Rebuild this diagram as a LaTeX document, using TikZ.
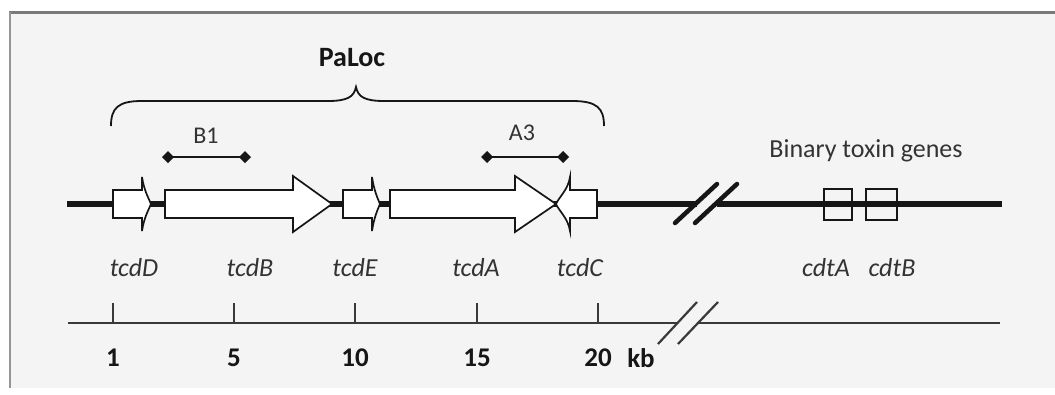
\documentclass[tikz,border=0pt]{standalone}
\usepackage{fontspec}
\setmainfont{Carlito}
\usetikzlibrary{calc}
\definecolor{panel}{HTML}{F4F4F4}
\definecolor{ink}{HTML}{161616}
\definecolor{txt}{HTML}{333333}
\definecolor{frame}{HTML}{7A7A7A}
\begin{document}
\begin{tikzpicture}[x=1pt,y=-1pt,
  chrom/.style={draw=ink,line width=6.5pt},
  ruler/.style={draw=ink!85,line width=2.2pt},
  brk/.style={draw=ink,line width=4.5pt,line cap=round},
  rbrk/.style={draw=ink!85,line width=2.2pt},
  gene/.style={draw=ink,fill=white,line width=1.7pt,line join=miter},
  small/.style={draw=ink,fill=none,line width=1.7pt},
  glabel/.style={font=\itshape\fontsize{26}{26}\selectfont,text=txt,inner sep=0pt},
  numlabel/.style={font=\bfseries\fontsize{27}{27}\selectfont,text=ink,inner sep=0pt},
  plainlabel/.style={font=\fontsize{26}{26}\selectfont,text=txt,inner sep=0pt},
  tick/.style={draw=ink!85,line width=2pt},
  bar/.style={draw=ink,line width=2pt},
  dia/.style={fill=ink,draw=none}]
% page / panel
\useasboundingbox (0,0) rectangle (1055,394);
\fill[white] (0,0) rectangle (1055,394);
\fill[panel] (10,12) rectangle (1055,388);
\draw[frame,line width=3pt] (9,12) -- (1055,12);
\draw[frame!80,line width=2.5pt] (10,12) -- (10,388);

% chromosome line
\coordinate (c0) at (67,204);
\coordinate (c1) at (696.5,204);
\coordinate (c2) at (716.5,204);
\coordinate (c3) at (1002,204);
\draw[chrom] (c0) -- (c1);
\draw[chrom] (c2) -- (c3);
% break marks
\coordinate (s1a) at (675,223); \coordinate (s1b) at (717,184);
\coordinate (s2a) at (695,223); \coordinate (s2b) at (737,184);
\draw[brk] (s1a) -- (s1b);
\draw[brk] (s2a) -- (s2b);

% genes
% tcdD (small, right)
\draw[gene] (113,190) -- (142,190) -- (142,177) .. controls (144,190) and (148,197) .. (151,204)
  .. controls (148,211) and (144,218) .. (142,231) -- (142,218) -- (113,218) -- cycle;
% tcdB
\draw[gene] (165,190) -- (293,190) -- (293,176) -- (332,204) -- (293,232) -- (293,218) -- (165,218) -- cycle;
% tcdE (small, right)
\draw[gene] (343,190) -- (372,190) -- (372,177) .. controls (374,190) and (377,197) .. (380,204)
  .. controls (377,211) and (374,218) .. (372,231) -- (372,218) -- (343,218) -- cycle;
% tcdA
\draw[gene] (390,190) -- (515,190) -- (515,176) -- (556,204) -- (515,232) -- (515,218) -- (390,218) -- cycle;
% tcdC (small, left)
\draw[gene] (597,190) -- (570,190) -- (570,177) .. controls (568,190) and (559,197) .. (556,204)
  .. controls (559,211) and (568,218) .. (570,231) -- (570,218) -- (597,218) -- cycle;
% binary toxin boxes (line shows through)
\draw[small] (824,189) rectangle (852,220);
\draw[small] (866,189) rectangle (897,220);

% gene labels
\node[glabel] (tcdD) at (134,268) {tcdD};
\node[glabel] (tcdB) at (250,268) {tcdB};
\node[glabel] (tcdE) at (355,268) {tcdE};
\node[glabel] (tcdA) at (476,268) {tcdA};
\node[glabel] (tcdC) at (580,268) {tcdC};
\node[glabel] (cdtA) at (826,268) {cdtA};
\node[glabel] (cdtB) at (892,268) {cdtB};
\node[plainlabel] (bin) at (866,151) {Binary toxin genes};

% PaLoc brace
\node[font=\bfseries\fontsize{28}{28}\selectfont,text=ink,inner sep=0pt] (paloc) at (352,58) {PaLoc};
\draw[ink,line width=1.8pt] (111,126) .. controls (111,108) and (118,101) .. (142,101) -- (328,101)
  .. controls (347,101) and (354,97) .. (356,87)
  .. controls (358,97) and (365,101) .. (384,101) -- (572,101)
  .. controls (597,101) and (604,108) .. (604,126);

% B1 / A3 bars
\node[plainlabel,font=\fontsize{24}{24}\selectfont] (b1) at (206,136) {B1};
\node[plainlabel,font=\fontsize{24}{24}\selectfont] (a3) at (522,133) {A3};
\coordinate (b1l) at (168,157); \coordinate (b1r) at (245,157);
\coordinate (a3l) at (487,157); \coordinate (a3r) at (563,157);
\draw[bar] (b1l) -- (b1r);
\draw[bar] (a3l) -- (a3r);
\foreach \p in {b1l,b1r,a3l,a3r}
  \fill[dia] ($(\p)+(-6,0)$) -- ($(\p)+(0,-6)$) -- ($(\p)+(6,0)$) -- ($(\p)+(0,6)$) -- cycle;

% ruler
\coordinate (r0) at (68,323);
\coordinate (r1) at (677.5,323);
\coordinate (r2) at (697.5,323);
\coordinate (r3) at (1000,323);
\draw[ruler] (r0) -- (r1);
\draw[ruler] (r2) -- (r3);
\coordinate (t1a) at (658,344); \coordinate (t1b) at (697,302);
\coordinate (t2a) at (678,344); \coordinate (t2b) at (718,302);
\draw[rbrk] (t1a) -- (t1b);
\draw[rbrk] (t2a) -- (t2b);
\foreach \x/\n in {113/1,234/5,355/10,477/15,598/20}{
  \draw[tick] (\x,303) -- (\x,323);
  \node[numlabel] (n\n) at (\x,358) {\n};
}
\node[numlabel] (kb) at (641,358) {kb};
\end{tikzpicture}
\end{document}
